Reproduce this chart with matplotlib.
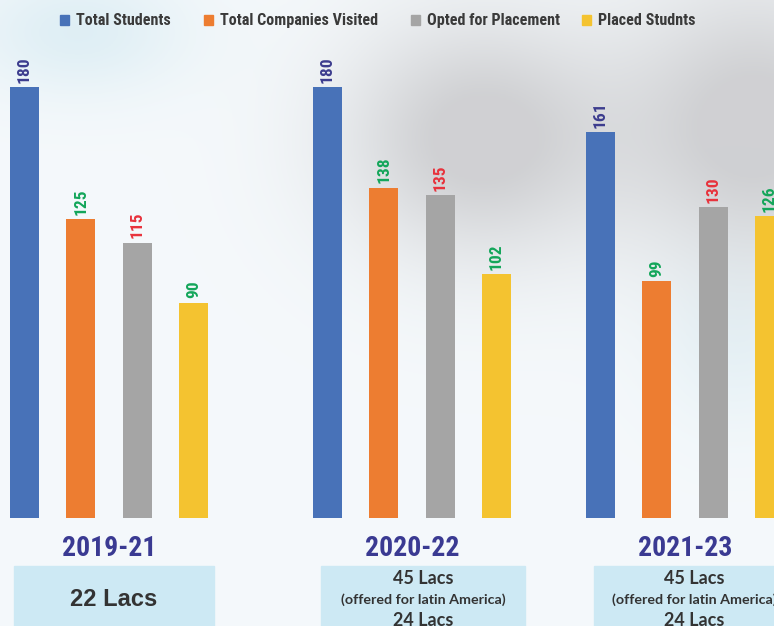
import matplotlib.pyplot as plt
import numpy as np
from matplotlib.patches import Rectangle
from matplotlib import font_manager

# ---- data ----
years = ["2019-21", "2020-22", "2021-23"]
series = ["Total Students", "Total Companies Visited", "Opted for Placement", "Placed Studnts"]
total_students = [180, 180, 161]
companies_visited = [125, 138, 99]
opted_placement = [115, 135, 130]
placed_students = [90, 102, 126]
packages = [["22 Lacs"],
            ["45 Lacs", "(offered for latin America)", "24 Lacs"],
            ["45 Lacs", "(offered for latin America)", "24 Lacs"]]

values = [total_students, companies_visited, opted_placement, placed_students]
bar_colors = ["#4872b8", "#ed7d31", "#a5a5a5", "#f4c330"]
label_colors = ["#3c3c8e", "#13a65a", "#e8323c", "#13a65a"]

# pick a condensed face if there is one
avail = {(f.name, f.stretch) for f in font_manager.fontManager.ttflist}
names = {a[0] for a in avail}
narrow = None
for cand in ['Roboto Condensed', 'Liberation Sans Narrow', 'Open Sans Condensed', 'Noto Sans Condensed']:
    if cand in names:
        narrow = dict(family=cand)
        break
if narrow is None:
    cond = [a for a in avail if a[1] not in ('normal', 400) and a[0] in ('DejaVu Sans', 'Noto Sans', 'Roboto', 'Open Sans')]
    if cond:
        narrow = dict(family=cond[0][0], stretch='condensed')
    else:
        narrow = dict(family='Roboto')

W, H = 774, 626
fig = plt.figure(figsize=(W/100, H/100), dpi=100)

# background (faded photo look)
bg = fig.add_axes([0, 0, 1, 1])
xx, yy = np.meshgrid(np.linspace(0, 1, 300), np.linspace(0, 1, 300))
img = np.zeros((300, 300, 3))
base = np.array([0.96, 0.975, 0.985])
grey = np.array([0.78, 0.78, 0.79])
bluish = np.array([0.84, 0.92, 0.95])
w_grey = 0.9*np.exp(-((xx-0.62)**2/0.03 + (yy-0.22)**2/0.035))
w_grey += 0.9*np.exp(-((xx-0.98)**2/0.03 + (yy-0.2)**2/0.05))
w_grey = np.clip(w_grey, 0, 0.8)
w_blue = 0.7*np.exp(-((xx-0.1)**2/0.02 + (yy-0.05)**2/0.01)) + 0.4*np.exp(-((xx-0.95)**2/0.01 + (yy-0.55)**2/0.02))
w_blue = np.clip(w_blue, 0, 1-w_grey)
for c in range(3):
    img[:, :, c] = base[c]*(1-w_grey-w_blue) + grey[c]*w_grey + bluish[c]*w_blue
bg.imshow(img, extent=[0, W, H, 0], aspect='auto')
bg.set_xlim(0, W)
bg.set_ylim(H, 0)
bg.axis('off')

# bars
baseline = 518
top180 = 87
ax = fig.add_axes([0, (H-baseline)/H, 1, baseline/H])
ax.set_xlim(0, W)
ax.set_ylim(0, 180*baseline/(baseline-top180))
ax.axis('off')

group_left = [10, 313, 586]
step = 56.3
bw = 29
for s in range(4):
    xs = [g + s*step for g in group_left]
    ax.bar(xs, values[s], width=bw, align='edge', color=bar_colors[s], zorder=2)
    for x, v in zip(xs, values[s]):
        ax.annotate(str(v), (x + bw/2, v), xytext=(0, 3), textcoords='offset points',
                    rotation=90, ha='center', va='bottom', fontsize=12.5,
                    fontweight='bold', color=label_colors[s], **narrow)

# overlay in pixel coords
ov = fig.add_axes([0, 0, 1, 1])
ov.set_xlim(0, W)
ov.set_ylim(H, 0)
ov.axis('off')

# legend
leg_sq = [60, 204, 411, 582]
for s in range(4):
    ov.add_patch(Rectangle((leg_sq[s], 15), 9, 10, color=bar_colors[s]))
    ov.text(leg_sq[s] + 16, 20.5, series[s], ha='left', va='center', fontsize=11.6,
            fontweight='bold', color='#3a3a3a', **narrow)

# year labels and package boxes
group_center = [g + (3*step + bw)/2 for g in group_left]
box_left = [14, 321, 594]
box_w = [200, 204, 200]
for i in range(3):
    ov.text(group_center[i], 548, years[i], ha='center', va='center', fontsize=20,
            fontweight='bold', color='#3a3a92', **narrow)
    ov.add_patch(Rectangle((box_left[i], 566), box_w[i], 70, color='#cde9f4', zorder=1))
    cx = box_left[i] + box_w[i]/2
    if len(packages[i]) == 1:
        ov.text(cx, 600, packages[i][0], ha='center', va='center', fontsize=17,
                fontweight='bold', color='#333333', family='Liberation Sans', zorder=2)
    else:
        ov.text(cx, 579, packages[i][0], ha='center', va='center', fontsize=13,
                fontweight='bold', color='#333333', family='Lato', zorder=2)
        ov.text(cx, 600, packages[i][1], ha='center', va='center', fontsize=10.3,
                fontweight='bold', color='#333333', family='Lato', zorder=2)
        ov.text(cx, 620, packages[i][2], ha='center', va='center', fontsize=13,
                fontweight='bold', color='#333333', family='Lato', zorder=2)

fig.savefig('out.png', dpi=100)
